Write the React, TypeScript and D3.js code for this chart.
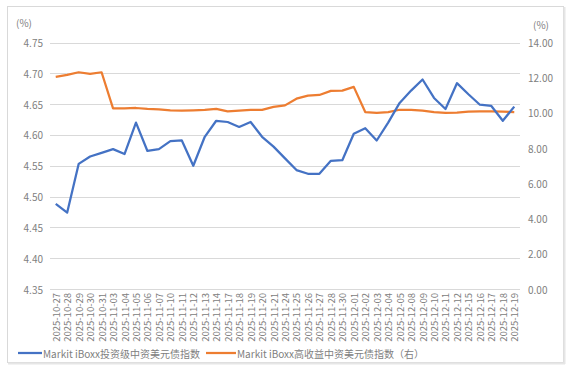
import React from "react";
import * as d3 from "d3";

const dates = [
  "2025-10-27", "2025-10-28", "2025-10-29", "2025-10-30", "2025-10-31",
  "2025-11-03", "2025-11-04", "2025-11-05", "2025-11-06", "2025-11-07",
  "2025-11-10", "2025-11-11", "2025-11-12", "2025-11-13", "2025-11-14",
  "2025-11-17", "2025-11-18", "2025-11-19", "2025-11-20", "2025-11-21",
  "2025-11-24", "2025-11-25", "2025-11-26", "2025-11-27", "2025-11-28",
  "2025-11-30", "2025-12-01", "2025-12-02", "2025-12-03", "2025-12-04",
  "2025-12-05", "2025-12-08", "2025-12-09", "2025-12-10", "2025-12-11",
  "2025-12-12", "2025-12-15", "2025-12-16", "2025-12-17", "2025-12-18",
  "2025-12-19",
];

// 投资级 (left axis)
const igValues = [
  4.488, 4.474, 4.553, 4.565, 4.571, 4.577, 4.569, 4.62, 4.574, 4.577,
  4.59, 4.591, 4.55, 4.597, 4.623, 4.621, 4.613, 4.621, 4.597, 4.581,
  4.562, 4.543, 4.537, 4.537, 4.558, 4.559, 4.602, 4.611, 4.591, 4.62,
  4.652, 4.672, 4.69, 4.66, 4.642, 4.684, 4.666, 4.649, 4.647, 4.623,
  4.646,
];

// 高收益 (right axis)
const hyValues = [
  12.05, 12.16, 12.31, 12.22, 12.31, 10.26, 10.26, 10.28, 10.23, 10.2,
  10.15, 10.13, 10.15, 10.17, 10.23, 10.09, 10.13, 10.17, 10.17, 10.34,
  10.43, 10.81, 10.98, 11.02, 11.25, 11.27, 11.48, 10.05, 10.0, 10.05,
  10.18, 10.18, 10.13, 10.05, 10.0, 10.02, 10.07, 10.09, 10.09, 10.07,
  10.05,
];

const leftTicks = [4.35, 4.4, 4.45, 4.5, 4.55, 4.6, 4.65, 4.7, 4.75];
const rightTicks = [0, 2, 4, 6, 8, 10, 12, 14];

const legendNames = [
  "Markit iBoxx投资级中资美元债指数",
  "Markit iBoxx高收益中资美元债指数（右）",
];

const BLUE = "#4472C4";
const ORANGE = "#ED7D31";
const TEXT = "#808080";
const FONT = "'Noto Sans CJK SC', 'Noto Sans', sans-serif";

export default function App() {
  const left = 50, right = 520, top = 42.5, bottom = 289;

  const x = d3.scaleBand().domain(dates).range([left, right]);
  const cx = (d: string) => (x(d) as number) + x.bandwidth() / 2;
  const yL = d3.scaleLinear().domain([4.35, 4.75]).range([bottom, top]);
  const yR = d3.scaleLinear().domain([0, 14]).range([bottom, top]);

  const lineIg = d3
    .line<number>()
    .x((_, i) => cx(dates[i]))
    .y((d) => yL(d));
  const lineHy = d3
    .line<number>()
    .x((_, i) => cx(dates[i]))
    .y((d) => yR(d));

  return (
    <svg
      width={576}
      height={373}
      style={{ position: "absolute", left: 0, top: 0, fontFamily: FONT }}
    >
      <rect x={0} y={0} width={576} height={373} fill="#fff" />
      <rect x={7.5} y={6.5} width={556} height={356} fill="#fff" stroke="#d9d9d9" />
      <line x1={564.5} y1={7} x2={564.5} y2={364} stroke="#e6e6e6" strokeWidth={2} />
      <line x1={8} y1={363.5} x2={565} y2={363.5} stroke="#e6e6e6" strokeWidth={2} />

      {leftTicks.map((t) => (
        <line
          key={t}
          x1={left}
          x2={right}
          y1={Math.round(yL(t)) + 0.5}
          y2={Math.round(yL(t)) + 0.5}
          stroke="#d9d9d9"
        />
      ))}

      {leftTicks.map((t) => (
        <text
          key={t}
          x={43}
          y={yL(t)}
          textAnchor="end"
          dominantBaseline="central"
          fontSize={10}
          fill={TEXT}
        >
          {d3.format(".2f")(t)}
        </text>
      ))}
      {rightTicks.map((t) => (
        <text
          key={t}
          x={528}
          y={yR(t)}
          textAnchor="start"
          dominantBaseline="central"
          fontSize={10}
          fill={TEXT}
        >
          {d3.format(".2f")(t)}
        </text>
      ))}
      <text x={16} y={22} fontSize={10} fill={TEXT} dominantBaseline="central">
        (%)
      </text>
      <text x={533} y={24} fontSize={10} fill={TEXT} dominantBaseline="central">
        (%)
      </text>

      {dates.map((d) => (
        <text
          key={d}
          transform={`translate(${cx(d)},293) rotate(-90)`}
          textAnchor="end"
          dominantBaseline="central"
          fontSize={9.5}
          fill={TEXT}
        >
          {d}
        </text>
      ))}

      <path d={lineHy(hyValues) || ""} fill="none" stroke={ORANGE} strokeWidth={2.25} strokeLinejoin="round" />
      <path d={lineIg(igValues) || ""} fill="none" stroke={BLUE} strokeWidth={2.25} strokeLinejoin="round" />

      <line x1={18} x2={42} y1={353} y2={353} stroke={BLUE} strokeWidth={2.25} />
      <text x={43} y={353} fontSize={10} fill={TEXT} dominantBaseline="central">
        {legendNames[0]}
      </text>
      <line x1={206} x2={236} y1={353} y2={353} stroke={ORANGE} strokeWidth={2.25} />
      <text x={237} y={353} fontSize={10} fill={TEXT} dominantBaseline="central">
        {legendNames[1]}
      </text>
    </svg>
  );
}
